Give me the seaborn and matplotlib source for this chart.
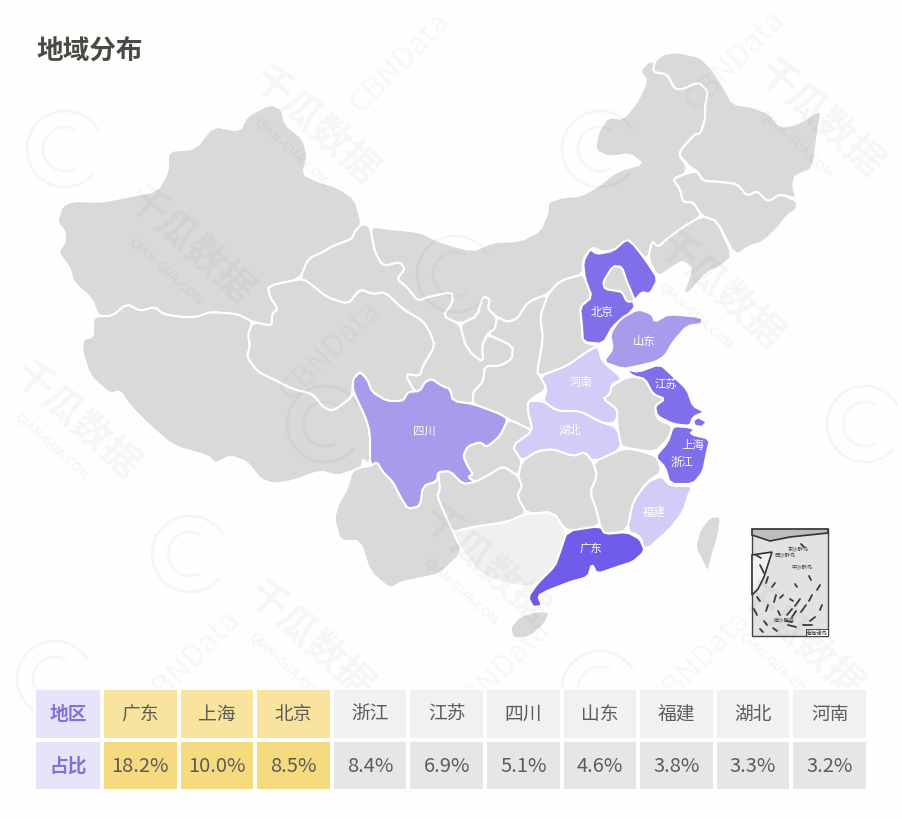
import numpy as np
import pandas as pd
import matplotlib.pyplot as plt
import seaborn as sns
from matplotlib.colors import ListedColormap
from matplotlib.patches import Arc

# ---------- table data ----------
regions = ['广东', '上海', '北京', '浙江', '江苏', '四川', '山东', '福建', '湖北', '河南']
shares = [18.2, 10.0, 8.5, 8.4, 6.9, 5.1, 4.6, 3.8, 3.3, 3.2]
row_names = ['地区', '占比']

# ---------- map outlines (map units = image pixels) ----------
xinjiang = [(57,223),(62,207),(73,202),(100,203),(127,198),(157,192),(168,173),(168,152),(195,150),(213,127),(240,132),(247,117),(270,105),(282,110),(285,125),(303,140),(308,157),(303,175),(317,182),(337,188),(355,200),(362,225),(355,232),(352,240),(333,247),(323,253),(308,260),(300,280),(268,287),(270,298),(278,310),(272,315),(272,327),(253,323),(237,315),(210,313),(197,318),(180,318),(163,315),(155,308),(140,312),(127,305),(112,317),(98,317),(92,300),(73,283),(70,270),(58,253),(65,243),(65,233)]
tibet = [(98,317),(112,317),(127,305),(140,312),(155,308),(163,315),(180,318),(197,318),(210,313),(237,315),(253,323),(248,335),(250,347),(247,358),(257,372),(273,380),(293,390),(313,395),(323,408),(333,412),(352,398),(353,392),(365,417),(370,433),(370,467),(363,460),(362,468),(352,472),(337,477),(320,472),(293,482),(273,485),(260,480),(247,463),(230,457),(215,465),(208,457),(173,447),(150,427),(130,407),(120,392),(110,395),(90,377),(82,353),(83,340),(93,338),(93,320)]
qinghai = [(268,287),(300,280),(307,282),(317,290),(327,298),(348,305),(360,290),(373,295),(385,293),(403,310),(423,322),(430,333),(435,347),(423,367),(420,377),(405,375),(415,393),(408,395),(403,402),(387,402),(372,393),(367,380),(360,373),(353,380),(352,398),(333,412),(323,408),(313,395),(293,390),(273,380),(257,372),(247,358),(250,347),(248,335),(253,323),(272,327),(272,315),(278,310),(270,298)]
gansu = [(370,227),(375,253),(383,267),(400,263),(405,270),(397,280),(407,288),(418,302),(427,298),(452,293),(453,303),(443,317),(460,325),(465,345),(472,355),(483,363),(482,347),(487,335),(513,347),(512,360),(500,367),(485,367),(483,383),(473,393),(473,405),(453,402),(450,390),(442,387),(432,380),(425,383),(420,392),(415,393),(405,375),(420,377),(423,367),(435,347),(430,333),(423,322),(403,310),(385,293),(373,295),(360,290),(348,305),(327,298),(317,290),(307,282),(300,280),(308,260),(323,253),(333,247),(352,240),(355,232),(362,225)]
ningxia = [(460,325),(477,317),(483,297),(490,300),(488,310),(497,318),(495,330),(487,335),(482,347),(483,363),(472,355),(465,345)]
inner_mongolia = [(370,227),(390,230),(420,233),(440,243),(473,252),(493,243),(520,242),(540,232),(548,213),(548,203),(563,198),(580,197),(597,188),(617,172),(643,165),(630,155),(610,158),(595,152),(598,133),(608,118),(623,120),(637,103),(647,82),(640,72),(648,63),(655,62),(653,73),(667,75),(675,90),(683,90),(698,83),(708,92),(705,107),(705,122),(700,135),(695,135),(680,152),(680,158),(687,167),(685,175),(673,180),(680,190),(683,203),(693,203),(702,217),(683,228),(667,240),(658,248),(652,242),(648,260),(637,253),(628,240),(618,250),(603,253),(592,248),(583,260),(583,275),(560,282),(548,295),(528,303),(517,320),(507,323),(497,318),(488,310),(490,300),(483,297),(477,317),(460,325),(443,317),(453,303),(452,293),(427,298),(418,302),(407,288),(397,280),(405,270),(400,263),(383,267),(375,253)]
heilongjiang = [(655,62),(663,55),(677,53),(700,58),(712,70),(723,87),(733,105),(753,108),(770,115),(780,128),(797,125),(822,110),(818,133),(813,170),(795,177),(793,188),(797,200),(780,195),(768,203),(757,192),(747,197),(737,185),(720,183),(703,182),(697,172),(690,168),(680,157),(680,152),(695,135),(700,135),(705,122),(705,107),(708,92),(698,83),(683,90),(675,90),(667,75),(653,73)]
jilin = [(673,180),(685,175),(697,172),(703,182),(720,183),(737,185),(747,197),(757,192),(768,203),(780,195),(797,202),(797,210),(787,217),(777,230),(763,243),(750,247),(735,257),(717,222),(702,217),(693,203),(683,203),(680,190)]
liaoning = [(702,217),(717,222),(733,257),(720,268),(707,273),(690,293),(683,295),(692,270),(683,262),(670,270),(658,278),(648,260),(652,242),(658,248),(667,240),(683,228)]
hebei = [(590,250),(597,255),(613,252),(627,240),(635,247),(647,263),(658,280),(650,295),(642,293),(633,303),(635,308),(627,317),(613,327),(603,345),(583,343),(582,327),(580,308),(592,298),(585,280),(583,263)]
beijing_tianjin = [(603,283),(613,267),(622,268),(627,283),(631,292),(635,302),(627,303),(622,293),(617,292),(605,290)]
shanxi = [(548,295),(560,282),(583,275),(585,280),(592,298),(580,308),(582,327),(583,343),(598,347),(588,352),(567,367),(540,377),(537,373),(543,340),(540,317)]
shaanxi = [(497,318),(507,323),(517,320),(528,303),(548,295),(540,317),(543,340),(537,373),(540,377),(547,390),(528,402),(528,413),(533,432),(523,427),(508,420),(500,415),(487,410),(473,405),(473,393),(483,383),(485,367),(500,367),(512,360),(513,347),(487,335),(495,330)]
shandong = [(610,335),(620,320),(638,310),(652,315),(655,323),(668,315),(702,318),(702,325),(687,327),(673,343),(665,357),(655,363),(638,367),(623,370),(603,363),(613,350)]
henan = [(540,377),(567,367),(588,352),(598,347),(602,362),(623,380),(612,385),(610,395),(603,400),(617,410),(617,420),(612,425),(600,423),(580,412),(557,412),(543,402),(547,390)]
hubei = [(528,402),(543,402),(557,412),(580,412),(600,423),(617,428),(622,450),(593,463),(585,453),(573,457),(553,450),(537,452),(522,462),(512,447),(533,432),(528,413)]
jiangsu = [(625,370),(638,373),(660,365),(673,377),(687,390),(693,407),(705,413),(693,418),(690,427),(673,425),(657,417),(655,407),(665,400),(653,395),(645,380),(633,377)]
shanghai = [(693,422),(698,418),(707,423),(702,428),(695,427)]
zhejiang = [(673,427),(687,428),(695,430),(690,435),(710,440),(707,453),(703,473),(693,485),(670,485),(665,468),(655,458),(668,443)]
anhui = [(623,380),(608,390),(603,400),(617,410),(617,423),(620,447),(633,450),(655,453),(668,440),(673,427),(657,420),(655,407),(665,400),(653,395),(645,380),(633,377)]
fujian = [(662,477),(670,487),(693,487),(688,497),(683,513),(670,530),(645,552),(640,537),(627,532),(633,503),(647,483)]
jiangxi = [(593,463),(622,450),(633,450),(657,457),(662,473),(647,483),(633,503),(627,532),(605,535),(600,527),(597,513),(590,493),(597,477)]
hunan = [(522,462),(537,452),(553,450),(573,457),(585,453),(593,463),(597,477),(590,493),(597,513),(600,527),(567,533),(553,513),(527,515),(517,497),(522,487),(518,477)]
guangdong = [(567,532),(600,527),(605,535),(627,533),(640,540),(645,552),(633,563),(617,568),(597,575),(592,565),(588,578),(570,583),(547,592),(538,597),(542,607),(533,608),(528,598),(537,585),(555,567),(560,553)]
guangxi = [(453,533),(473,528),(507,523),(525,515),(553,513),(567,533),(560,553),(555,567),(537,585),(527,588),(500,583),(480,575),(463,553)]
sichuan = [(353,380),(360,373),(367,380),(372,393),(387,402),(403,402),(408,393),(420,392),(425,383),(432,380),(442,387),(450,390),(453,402),(473,405),(487,410),(500,415),(508,420),(500,437),(487,448),(480,443),(468,447),(463,457),(468,468),(473,475),(468,478),(475,483),(463,485),(450,472),(438,473),(437,482),(423,487),(420,507),(408,510),(400,497),(393,483),(383,473),(377,463),(370,467),(370,433),(365,417),(353,392)]
chongqing = [(468,447),(480,443),(487,448),(500,437),(508,420),(523,427),(533,432),(512,447),(522,462),(518,477),(503,467),(487,477),(475,483),(468,478),(473,475),(468,468),(463,457)]
guizhou = [(438,473),(450,472),(463,485),(475,483),(487,477),(503,467),(518,477),(522,487),(517,497),(527,515),(507,523),(473,528),(453,533),(447,520),(437,497),(440,490)]
yunnan = [(370,467),(377,463),(383,473),(393,483),(400,497),(408,510),(420,507),(423,487),(437,482),(438,473),(440,490),(437,497),(447,520),(453,533),(463,553),(440,575),(427,578),(402,583),(390,590),(370,573),(360,542),(340,542),(334,520),(338,505),(347,490),(352,472),(362,468)]
hainan = [(510,628),(520,617),(537,612),(550,613),(545,625),(530,638),(513,640)]
taiwan = [(695,548),(700,530),(710,518),(721,517),(719,535),(712,558),(708,574),(702,562)]

grey_areas = [xinjiang, tibet, qinghai, gansu, ningxia, inner_mongolia, heilongjiang, jilin, liaoning,
              shanxi, shaanxi, anhui, jiangxi, hunan, chongqing, guizhou, yunnan, hainan, taiwan]
dark_areas = [hebei, jiangsu, zhejiang, shanghai]
mid_areas = [sichuan, shandong]
light_areas = [henan, hubei, fujian]

map_labels = ['北京', '山东', '河南', '湖北', '四川', '江苏', '上海', '浙江', '福建', '广东']
label_x = [602, 644, 581, 570, 424, 666, 693, 682, 654, 591]
label_y = [312, 342, 383, 430, 432, 384, 445, 462, 512, 549]

# watermark positions
wm_cn = [(315,125),(820,118),(76,420),(190,245),(485,565),(800,640),(310,640),(720,290)]
wm_en = [(400,62),(735,60),(190,660),(500,670),(330,350),(700,660)]
wm_rings = [(65,150),(600,150),(190,555),(865,425),(325,425),(455,275),(55,680),(600,690)]

# inset sea marks
sea_x0 = [756,760,768,772,776,792,800,786,796,806,812,768,778,788,803,815,760,820,764,783,795,809,773,754,790,822,801,757]
sea_y0 = [556,566,578,588,596,610,600,622,612,606,596,606,612,626,626,618,630,586,622,596,585,577,629,610,600,606,545,598]
sea_dx = [5,4,-2,3,-2,-5,-5,6,-4,-5,-3,-2,2,8,9,-5,3,-3,3,-3,2,2,4,3,3,-2,3,3]
sea_dy = [3,8,6,-4,7,6,7,1,6,7,6,6,4,2,0,4,3,5,4,3,3,4,3,6,2,5,3,4]

sns.set_theme(style='white')
plt.rcParams['font.family'] = ['Noto Sans CJK SC', 'DejaVu Sans']

fig = plt.figure(figsize=(9.02, 8.2), dpi=100)
fig.patch.set_facecolor('#fefefe')
W, H = 902, 820


def px_axes(x0, y0, x1, y1):
    return fig.add_axes([x0 / W, 1 - y1 / H, (x1 - x0) / W, (y1 - y0) / H])


def soften(area, cut=0.18):
    # corner cutting so the outlines look less like straight segments
    xy = np.array(area, dtype=float)
    nxt = np.roll(xy, -1, axis=0)
    a = xy * (1 - cut) + nxt * cut
    b = xy * cut + nxt * (1 - cut)
    return np.stack([a, b], axis=1).reshape(-1, 2)


ax = fig.add_axes([0, 0, 1, 1])
ax.set_xlim(0, W)
ax.set_ylim(H, 0)
ax.axis('off')


def draw_areas(areas, color):
    for area in areas:
        xy = soften(area)
        ax.fill(xy[:, 0], xy[:, 1], facecolor=color, edgecolor='white', lw=1.5, joinstyle='round', zorder=2)


draw_areas(grey_areas, '#d9d9d9')
draw_areas([guangxi], '#f0f0f0')
draw_areas(dark_areas, '#7f6fe9')
draw_areas(mid_areas, '#a79bec')
draw_areas(light_areas, '#d2ccf6')
draw_areas([guangdong], '#6e5de8')
draw_areas([beijing_tianjin], '#d9d9d9')

for name, lx, ly in zip(map_labels, label_x, label_y):
    ax.text(lx, ly, name, color='white', fontsize=8.2, ha='center', va='center', zorder=4)

ax.text(36, 52, '地域分布', fontsize=19.2, fontweight='bold', color='#4b4a42', va='center', zorder=5)

# south china sea inset
ax.fill([752, 828, 828, 752], [530, 530, 637, 637], facecolor='#e2e2e2', edgecolor='#444444', lw=1.0, zorder=3)
ax.fill([752, 772, 764, 758, 752], [556, 553, 578, 590, 596], facecolor='#f2f2f2', edgecolor='#333333', lw=1.2, zorder=3)
ax.fill([752, 828, 828, 790, 770, 752], [530, 530, 534, 538, 542, 536], facecolor='#bdbdbd', edgecolor='#333333', lw=1.2, zorder=3)
for x0, y0, dx, dy in zip(sea_x0, sea_y0, sea_dx, sea_dy):
    ax.plot([x0, x0 + dx], [y0, y0 + dy], color='#3a3a3a', lw=1.3, solid_capstyle='round', zorder=4)
ax.fill([806, 828, 828, 806], [630, 630, 637, 637], facecolor='white', edgecolor='#333333', lw=0.6, zorder=4)
ax.text(817, 633.5, '南海诸岛', fontsize=4, color='#333333', ha='center', va='center', zorder=5)
ax.text(798, 549, '东沙群岛', fontsize=3.8, color='#444444', ha='center', va='center', zorder=5)
ax.text(785, 555, '西沙群岛', fontsize=3.8, color='#444444', ha='center', va='center', zorder=5)
ax.text(802, 567, '中沙群岛', fontsize=3.8, color='#444444', ha='center', va='center', zorder=5)
ax.text(784, 620, '南沙群岛', fontsize=3.8, color='#444444', ha='center', va='center', zorder=5)

# watermark
for wx, wy in wm_rings:
    ax.add_patch(Arc((wx, wy), 76, 76, theta1=40, theta2=330, color='black', alpha=0.035, lw=2, zorder=6))
    ax.add_patch(Arc((wx, wy), 44, 44, theta1=60, theta2=300, color='black', alpha=0.03, lw=2, zorder=6))
for wx, wy in wm_cn:
    ax.text(wx, wy, '千瓜数据', fontsize=28, rotation=-42, rotation_mode='anchor', ha='center', va='center',
            color='black', alpha=0.035, fontweight='bold', zorder=6)
    ax.text(wx - 24, wy + 27, 'QIAN-GUA.COM', fontsize=9, rotation=-42, rotation_mode='anchor', ha='center',
            va='center', color='black', alpha=0.04, fontweight='bold', zorder=6)
for wx, wy in wm_en:
    ax.text(wx, wy, 'CBNData', fontsize=22, rotation=45, rotation_mode='anchor', ha='center', va='center',
            color='black', alpha=0.03, zorder=6)

# ---------- table ----------
df_text = pd.DataFrame([regions, [f'{v:.1f}%' for v in shares]], columns=regions, index=row_names)
top3 = np.array(shares) >= sorted(shares)[-3]
codes = np.vstack([np.where(top3, 0, 2), np.where(top3, 1, 3)])
df_codes = pd.DataFrame(codes, columns=regions, index=row_names)
table_cmap = ListedColormap(['#f8e49f', '#f5da80', '#f1f1f1', '#e6e6e6'])

ax_head = px_axes(34, 689, 102, 792)
sns.heatmap(pd.DataFrame({'h': [0, 0]}), annot=np.array([[n] for n in row_names]), fmt='', cbar=False,
            cmap=ListedColormap(['#e7e4f9']), linewidths=1.5, linecolor='#fefefe',
            annot_kws={'size': 13.5, 'color': '#8272d6', 'fontweight': 'bold'},
            xticklabels=False, yticklabels=False, ax=ax_head)

ax_tab = px_axes(102, 689, 868, 792)
sns.heatmap(df_codes, annot=df_text.values, fmt='', cbar=False, cmap=table_cmap, vmin=0, vmax=3,
            linewidths=1.5, linecolor='#fefefe', annot_kws={'size': 13.5, 'color': '#5c5c58'},
            xticklabels=False, yticklabels=False, ax=ax_tab)
# percent digits run a little wider than the names
for t in ax_tab.texts:
    if t.get_text().endswith('%'):
        t.set_fontsize(14.5)

fig.savefig('out.png', dpi=100, facecolor=fig.get_facecolor())
